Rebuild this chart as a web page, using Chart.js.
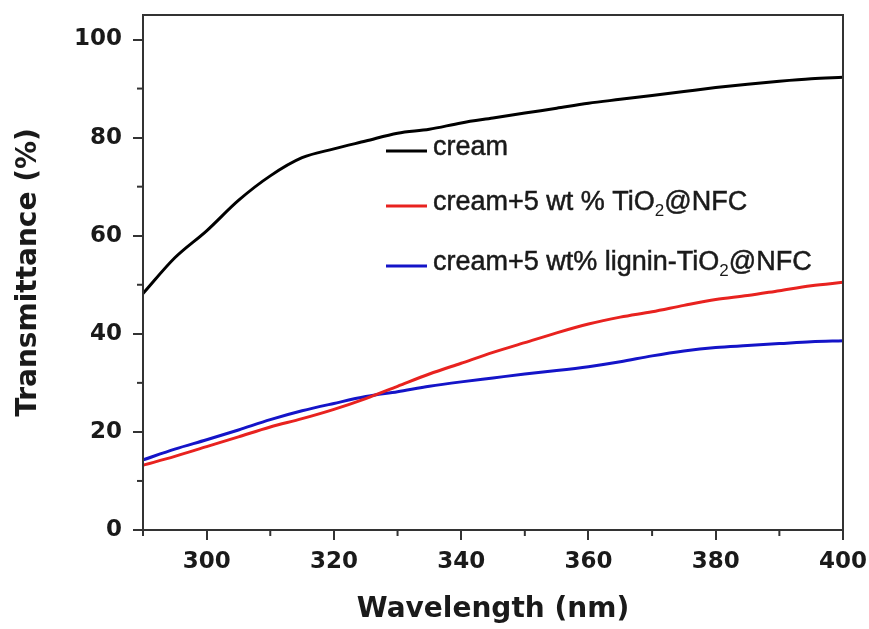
<!DOCTYPE html>
<html><head><meta charset="utf-8">
<script src="https://cdn.jsdelivr.net/npm/chart.js@4/dist/chart.umd.min.js"></script>
<style>html,body{margin:0;padding:0;background:#fff}#wrap{width:869px;height:629px}</style>
</head><body><div id="wrap"><canvas id="c" width="869" height="629"></canvas></div>
<script>
const wavelengths = [290,295,300,305,310,315,320,325,330,335,340,345,350,355,360,365,370,375,380,385,390,395,400];
const cream       = [48.2,55.5,61.0,67.2,72.2,75.9,77.7,79.3,80.9,81.7,83.0,84.0,85.0,86.0,87.0,87.8,88.6,89.4,90.2,90.9,91.5,92.0,92.3];
const creamTiO2   = [13.2,15.0,17.0,19.0,21.0,22.7,24.6,26.8,29.3,31.8,34.0,36.2,38.2,40.2,42.0,43.4,44.5,45.8,47.0,47.8,48.8,49.8,50.5];
const creamLignin = [14.3,16.5,18.4,20.4,22.5,24.3,25.8,27.2,28.2,29.3,30.2,31.0,31.8,32.5,33.3,34.3,35.5,36.5,37.2,37.6,38.0,38.4,38.6];
const seriesLabels = ['cream','cream+5 wt % TiO\u2082@NFC','cream+5 wt% lignin-TiO\u2082@NFC'];
const seriesColors = ['#000000','#e8221f','#1414c8'];
const xTickValues = [290,300,310,320,330,340,350,360,370,380,390,400];
const yTickValues = [0,10,20,30,40,50,60,70,80,90,100];

function pts(arr){ return wavelengths.map((w,i)=>({x:w,y:arr[i]})); }

const framePlugin = {
  id:'frame',
  afterDatasetsDraw(chart){
    const {ctx, chartArea:a} = chart;
    const xs = chart.scales.x, ys = chart.scales.y;
    ctx.save();
    ctx.strokeStyle = '#333'; ctx.lineWidth = 2;
    ctx.strokeRect(a.left, a.top, a.right-a.left, a.bottom-a.top);
    xTickValues.filter(v=>v%20!==0).forEach(v=>{
      const p = xs.getPixelForValue(v);
      ctx.beginPath(); ctx.moveTo(p,a.bottom); ctx.lineTo(p,a.bottom+6); ctx.stroke();
    });
    yTickValues.filter(v=>v%20!==0).forEach(v=>{
      const p = ys.getPixelForValue(v);
      ctx.beginPath(); ctx.moveTo(a.left,p); ctx.lineTo(a.left-6,p); ctx.stroke();
    });
    ctx.restore();
  }
};

const legendPlugin = {
  id:'innerLegend',
  afterDraw(chart){
    const ctx = chart.ctx;
    const baselines = [155,210,270];
    ctx.save();
    chart.data.datasets.forEach((ds,i)=>{
      const b = baselines[i];
      ctx.strokeStyle = ds.borderColor; ctx.lineWidth = 3;
      ctx.beginPath(); ctx.moveTo(386,b-4); ctx.lineTo(427,b-4); ctx.stroke();
      ctx.fillStyle = '#1a1a1a';
      ctx.strokeStyle = '#1a1a1a'; ctx.lineWidth = 0.5;
      ctx.textBaseline = 'alphabetic'; ctx.textAlign = 'left';
      let x = 433;
      const parts = ds.label.split('\u2082');
      parts.forEach((p,k)=>{
        ctx.font = '27px "Liberation Sans", Arial, sans-serif';
        ctx.fillText(p, x, b); ctx.strokeText(p, x, b); x += ctx.measureText(p).width;
        if(k < parts.length-1){
          ctx.font = '17px "Liberation Sans", Arial, sans-serif';
          ctx.fillText('2', x, b+6); x += ctx.measureText('2').width;
        }
      });
    });
    ctx.restore();
  }
};

const tickFont = {family:'"DejaVu Sans", sans-serif', weight:'bold', size:23};
const titleFont = {family:'"DejaVu Sans", sans-serif', weight:'bold', size:28, lineHeight:1};

new Chart(document.getElementById('c'), {
  type:'line',
  data:{
    datasets:[
      {label:seriesLabels[0], data:pts(cream), borderColor:seriesColors[0]},
      {label:seriesLabels[1], data:pts(creamTiO2), borderColor:seriesColors[1]},
      {label:seriesLabels[2], data:pts(creamLignin), borderColor:seriesColors[2]}
    ].map(d=>Object.assign(d,{borderWidth:3, pointRadius:0, fill:false, cubicInterpolationMode:'monotone', borderJoinStyle:'round'}))
  },
  options:{
    responsive:false, animation:false, devicePixelRatio:1,
    layout:{padding:{top:15,right:26,left:0,bottom:0}},
    plugins:{legend:{display:false}, tooltip:{enabled:false}},
    scales:{
      x:{
        type:'linear', min:290, max:400,
        afterBuildTicks: s=>{ s.ticks = xTickValues.map(v=>({value:v})); },
        afterFit: s=>{ s.height = 99; s.paddingLeft = 0; s.paddingRight = 0; },
        ticks:{autoSkip:false, maxRotation:0, padding:8, color:'#1a1a1a', font:tickFont,
               callback: v => v%20===0 ? String(v) : ''},
        grid:{drawOnChartArea:false, tickLength:10, lineWidth:2,
              color: c => (c.tick && c.tick.value%20===0) ? '#333' : 'rgba(0,0,0,0)'},
        border:{display:false},
        title:{display:true, text:'Wavelength (nm)', color:'#1a1a1a', font:titleFont, padding:{top:0,bottom:5}}
      },
      y:{
        type:'linear', min:0, max:105,
        afterBuildTicks: s=>{ s.ticks = yTickValues.map(v=>({value:v})); },
        afterFit: s=>{ s.width = 143; s.paddingTop = 0; s.paddingBottom = 0; },
        ticks:{autoSkip:false, padding:11, color:'#1a1a1a', font:tickFont,
               callback: v => v%20===0 ? String(v) : ''},
        grid:{drawOnChartArea:false, tickLength:10, lineWidth:2,
              color: c => (c.tick && c.tick.value%20===0) ? '#333' : 'rgba(0,0,0,0)'},
        border:{display:false},
        title:{display:true, text:'Transmittance (%)', color:'#1a1a1a', font:titleFont, padding:{top:15,bottom:0}}
      }
    }
  },
  plugins:[framePlugin, legendPlugin]
});
</script>
</body></html>
